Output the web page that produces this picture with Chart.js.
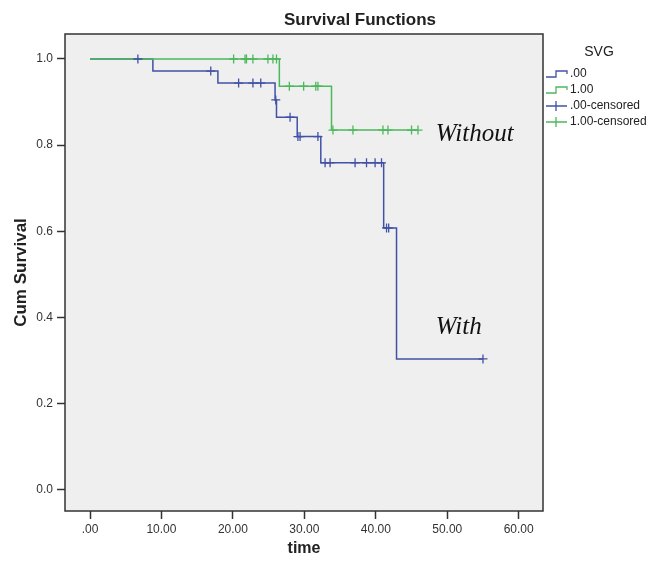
<!DOCTYPE html>
<html>
<head>
<meta charset="utf-8">
<title>Survival Functions</title>
<script src="https://cdn.jsdelivr.net/npm/chart.js@4.4.1/dist/chart.umd.min.js"></script>
<style>
  html, body { margin: 0; padding: 0; background: #fff; }
  #wrap { width: 657px; height: 562px; position: relative; }
</style>
</head>
<body>
<div id="wrap"><canvas id="km"></canvas></div>
<script>
// SVG = .00 ("With") - step points of the survival curve
const withTimes = [0, 8.8, 17.9, 25.9, 26.1, 29.0, 32.3, 41.1, 42.9, 55.0];
const withSurv  = [1.0, 0.972, 0.944, 0.905, 0.865, 0.820, 0.759, 0.608, 0.304, 0.304];
// SVG = .00 censored cases
const withCensTimes = [6.7, 16.9, 20.8, 22.8, 23.9, 26.0, 28.0, 29.1, 29.4, 31.9, 32.9, 33.6, 37.1, 38.7, 39.9, 40.8, 41.5, 41.8, 55.0];
const withCensSurv  = [1.0, 0.972, 0.944, 0.944, 0.944, 0.905, 0.865, 0.820, 0.820, 0.820, 0.759, 0.759, 0.759, 0.759, 0.759, 0.759, 0.608, 0.608, 0.304];

// SVG = 1.00 ("Without")
const withoutTimes = [0, 26.5, 33.8, 45.9];
const withoutSurv  = [1.0, 0.937, 0.835, 0.835];
const withoutCensTimes = [20.1, 21.7, 21.9, 22.8, 24.9, 25.6, 26.1, 27.9, 29.9, 31.6, 31.9, 34.0, 36.8, 41.0, 41.7, 45.0, 45.9];
const withoutCensSurv  = [1.0, 1.0, 1.0, 1.0, 1.0, 1.0, 1.0, 0.937, 0.937, 0.937, 0.937, 0.835, 0.835, 0.835, 0.835, 0.835, 0.835];

const xTickValues = [0, 10, 20, 30, 40, 50, 60];
const xTickLabels = ['.00', '10.00', '20.00', '30.00', '40.00', '50.00', '60.00'];
const yTickValues = [0, 0.2, 0.4, 0.6, 0.8, 1.0];
const yTickLabels = ['0.0', '0.2', '0.4', '0.6', '0.8', '1.0'];

const legendLabels = ['.00', '1.00', '.00-censored', '1.00-censored'];

const BLUE = '#4151a6';
const GREEN = '#4cb85c';
const INK = '#222';

function pts(xs, ys) {
    return xs.map((x, i) => ({ x: x, y: ys[i] }));
}

// background, frame, title, legend and the two labels
const decor = {
    id: 'decor',
    beforeDraw(chart) {
        const { ctx, chartArea: a } = chart;
        ctx.save();
        ctx.fillStyle = '#efefef';
        ctx.fillRect(a.left, a.top, a.right - a.left, a.bottom - a.top);
        ctx.restore();
    },
    afterDraw(chart) {
        const { ctx, chartArea: a, scales } = chart;
        ctx.save();
        ctx.strokeStyle = '#333';
        ctx.lineWidth = 1.5;
        ctx.strokeRect(a.left, a.top, a.right - a.left, a.bottom - a.top);

        // title
        ctx.fillStyle = INK;
        ctx.font = 'bold 17px "Liberation Sans", Arial, sans-serif';
        ctx.textAlign = 'center';
        ctx.textBaseline = 'middle';
        ctx.fillText('Survival Functions', 360, 20);

        // group labels
        ctx.fillStyle = '#111';
        ctx.font = 'italic 25px "Liberation Serif", "Times New Roman", serif';
        ctx.textAlign = 'left';
        ctx.fillText('Without', scales.x.getPixelForValue(48.4), scales.y.getPixelForValue(0.826));
        ctx.fillText('With', scales.x.getPixelForValue(48.4), scales.y.getPixelForValue(0.378));

        // legend
        ctx.fillStyle = INK;
        ctx.font = '14px "Liberation Sans", Arial, sans-serif';
        ctx.textAlign = 'center';
        ctx.fillText('SVG', 599, 52);
        const rows = [74, 90, 106, 122];
        const cols = [BLUE, GREEN, BLUE, GREEN];
        ctx.font = '12px "Liberation Sans", Arial, sans-serif';
        ctx.textAlign = 'left';
        rows.forEach((y, i) => {
            ctx.strokeStyle = cols[i];
            ctx.lineWidth = 1.3;
            ctx.beginPath();
            if (i < 2) {
                ctx.moveTo(546, y + 3);
                ctx.lineTo(556, y + 3);
                ctx.lineTo(556, y - 3);
                ctx.lineTo(567, y - 3);
                ctx.lineTo(567, y);
            } else {
                ctx.moveTo(546, y);
                ctx.lineTo(567, y);
                ctx.moveTo(556, y - 5);
                ctx.lineTo(556, y + 5);
            }
            ctx.stroke();
            ctx.fillStyle = INK;
            ctx.fillText(legendLabels[i], 570, y);
        });
        ctx.restore();
    }
};

const ctx = document.getElementById('km').getContext('2d');
const chart = new Chart(ctx, {
    type: 'scatter',
    data: {
        datasets: [
            { label: '.00', data: pts(withTimes, withSurv), showLine: true, stepped: 'before', order: 2,
              borderColor: BLUE, borderWidth: 1.5, pointRadius: 0, fill: false },
            { label: '1.00', data: pts(withoutTimes, withoutSurv), showLine: true, stepped: 'before', order: 1,
              borderColor: GREEN, borderWidth: 1.5, pointRadius: 0, fill: false },
            { label: '.00-censored', data: pts(withCensTimes, withCensSurv), showLine: false, order: 0,
              pointStyle: 'cross', pointRadius: 4.5, borderColor: BLUE, borderWidth: 1.3 },
            { label: '1.00-censored', data: pts(withoutCensTimes, withoutCensSurv), showLine: false, order: 0,
              pointStyle: 'cross', pointRadius: 4.5, borderColor: GREEN, borderWidth: 1.3 }
        ]
    },
    options: {
        responsive: true,
        maintainAspectRatio: false,
        animation: false,
        layout: { padding: { top: 34, right: 114, left: 0, bottom: 0 } },
        plugins: { legend: { display: false }, tooltip: { enabled: false }, title: { display: false } },
        scales: {
            x: {
                type: 'linear',
                min: -3.5,
                max: 63.4,
                afterFit(s) { s.height = 51; },
                afterBuildTicks(s) { s.ticks = xTickValues.map(v => ({ value: v })); },
                border: { display: false },
                grid: { drawOnChartArea: false, tickLength: 8, tickColor: '#333', tickWidth: 1.5 },
                ticks: {
                    padding: 3,
                    color: '#333',
                    font: { family: '"Liberation Sans", Arial, sans-serif', size: 12 },
                    maxRotation: 0,
                    callback: (v, i) => xTickLabels[i]
                },
                title: {
                    display: true, text: 'time', color: INK,
                    font: { family: '"Liberation Sans", Arial, sans-serif', size: 16, weight: 'bold' },
                    padding: { top: 0, bottom: 4 }
                }
            },
            y: {
                min: -0.049,
                max: 1.058,
                afterFit(s) { s.width = 65; },
                afterBuildTicks(s) { s.ticks = yTickValues.map(v => ({ value: v })); },
                border: { display: false },
                grid: { drawOnChartArea: false, tickLength: 8, tickColor: '#333', tickWidth: 1.5 },
                ticks: {
                    padding: 4,
                    color: '#333',
                    font: { family: '"Liberation Sans", Arial, sans-serif', size: 12 },
                    callback: (v, i) => yTickLabels[i]
                },
                title: {
                    display: true, text: 'Cum Survival', color: INK,
                    font: { family: '"Liberation Sans", Arial, sans-serif', size: 17, weight: 'bold' },
                    padding: { top: 11, bottom: 0 }
                }
            }
        }
    },
    plugins: [decor]
});
</script>
</body>
</html>
